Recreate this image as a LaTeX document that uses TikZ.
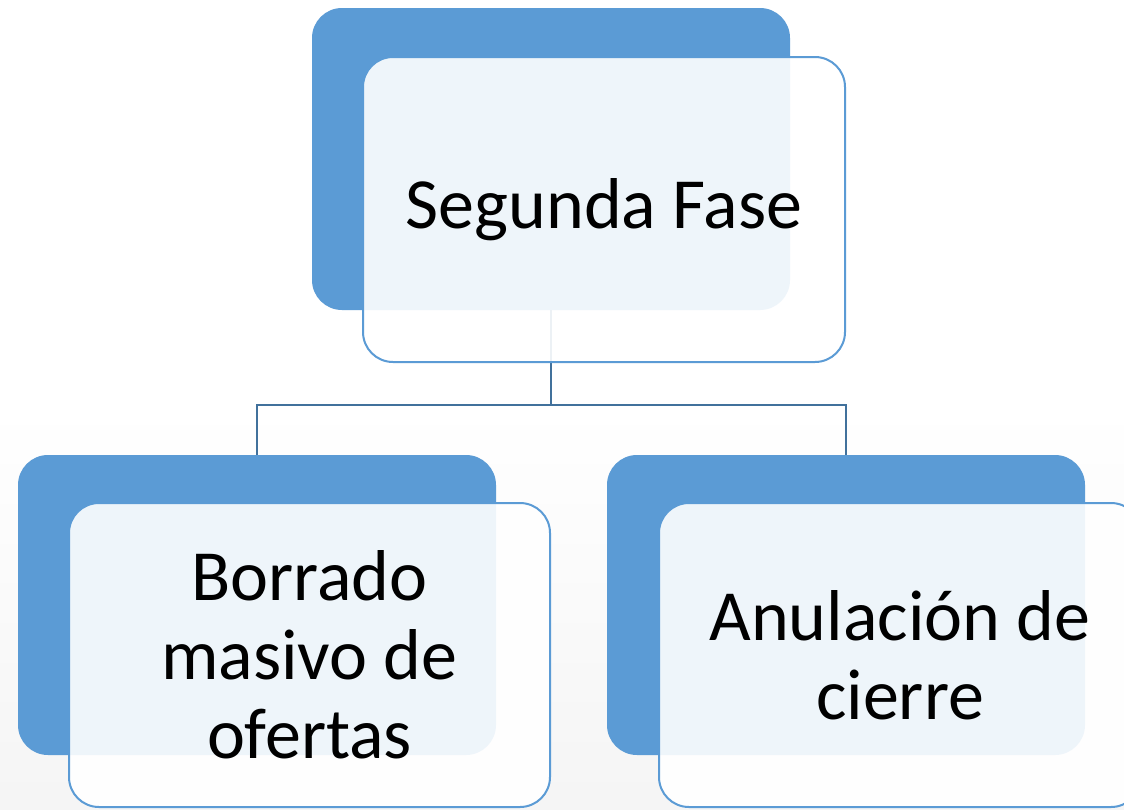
\documentclass[tikz,border=0pt]{standalone}
\usepackage{fontspec}
\setmainfont{Carlito}
\definecolor{darkbox}{HTML}{5B9BD5}
\definecolor{lightfill}{HTML}{FFFFFF}
\definecolor{lightline}{HTML}{5B9BD5}
\definecolor{conn}{HTML}{41719C}
\tikzset{
  darkbg/.style={fill=darkbox, draw=none, rounded corners=30pt, inner sep=0pt},
  lightfg/.style={fill=lightfill, fill opacity=0.9, text opacity=1, draw=lightline, line width=2pt, rounded corners=30pt, inner sep=0pt, font=\fontsize{72}{79}\selectfont, align=center},
  connline/.style={draw=conn, line width=2.6pt}
}
\begin{document}
\begin{tikzpicture}[x=1pt,y=1pt]
\useasboundingbox (0,0) rectangle (1124,-809);
\clip (0,0) rectangle (1124,-809);
\shade[top color=white, bottom color=black!4, middle color=white] (0,0) rectangle (1124,-809);
% dark boxes
\node[darkbg, minimum width=478pt, minimum height=302pt] (topdark) at (551,-159) {};
\node[darkbg, minimum width=478pt, minimum height=300pt] (ldark) at (257,-605) {};
\node[darkbg, minimum width=478pt, minimum height=300pt] (rdark) at (846,-605) {};
% connectors
\coordinate (mid) at (551,-405);
\draw[connline] (topdark.south) -- (mid);
\draw[connline] (ldark.north) |- (mid) -| (rdark.north);
% light boxes
\node[lightfg, minimum width=482pt, minimum height=305pt] (toplight) at (604,-209.5) {Segunda Fase};
\node[lightfg, minimum width=481pt, minimum height=304pt] (llight) at (309.5,-655) {Borrado\\masivo de\\ofertas};
\node[lightfg, minimum width=482pt, minimum height=304pt] (rlight) at (900,-655) {Anulación de\\cierre};
\end{tikzpicture}
\end{document}
